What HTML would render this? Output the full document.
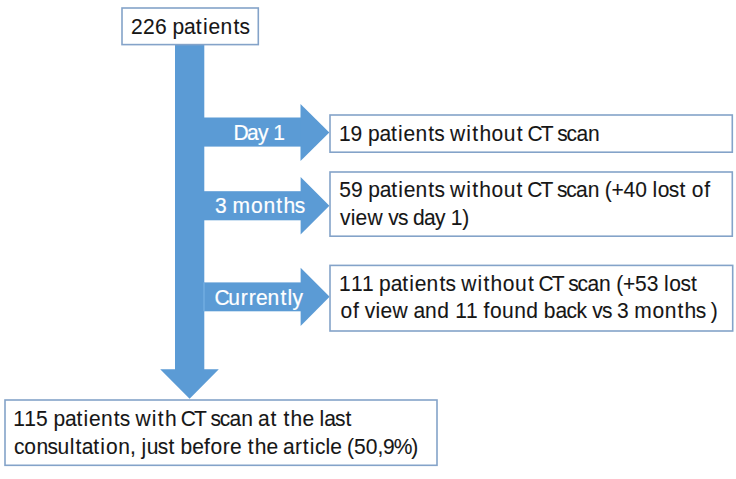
<!DOCTYPE html>
<html><head><meta charset="utf-8">
<style>
html,body{margin:0;padding:0;background:#fff;}
body{width:736px;height:479px;overflow:hidden;position:relative;}
svg{position:absolute;left:0;top:0;}
text{font-family:"Liberation Sans",sans-serif;font-size:21px;fill:#161616;stroke:#161616;stroke-width:0.1px;}
text.w{fill:#fff;stroke:#fff;stroke-width:0.2px;}
</style></head><body>
<svg width="736" height="479" viewBox="0 0 736 479">
<g fill="#5b9bd5">
<polygon points="175,45 204.3,45 204.3,369.2 218.8,369.2 189.6,398.7 160.2,369.2 175,369.2"/>
<rect x="204" y="117.5" width="97" height="29.1"/>
<polygon points="300.5,104 329.3,132.6 300.5,161"/>
<rect x="204" y="191.2" width="97" height="29.1"/>
<polygon points="300.6,177 329.4,205.7 300.6,234.5"/>
<rect x="204" y="282.4" width="97" height="28.9"/>
<rect x="203.6" y="282.4" width="0.8" height="28.9" fill="#86bbec"/>
<polygon points="300.6,267.7 329.6,296.8 300.6,325.9"/>
</g>
<g fill="#fff" stroke="#84a3c9" stroke-width="1.6">
<rect x="122" y="8" width="136.3" height="36.6"/>
<rect x="330" y="115" width="402.3" height="37.2"/>
<rect x="330" y="172" width="402.3" height="64.2"/>
<rect x="330" y="265.4" width="402.7" height="65.6"/>
<rect x="5" y="400" width="432" height="65.3"/>
</g>
<text x="131.1 143.0 154.9 166.5 172.4 184.1 195.8 203.0 208.6 220.5 233.4 239.6" y="33.6" transform="matrix(1 0 0 1.02 0 -0.67)">226 patients</text>
<text class='w' x="233.4 247.1 258.0 267.9 273.2" y="140.0" transform="matrix(1 0 0 1.02 0 -2.80)">Day 1</text>
<text class='w' x="214.9 226.4 232.6 251.1 263.4 276.3 283.5 294.8" y="213.4" transform="matrix(1 0 0 1.02 0 -4.27)">3 months</text>
<text class='w' x="214.4 228.3 240.8 248.7 255.9 267.6 280.4 287.5 292.4" y="305.2" transform="matrix(1 0 0 1.02 0 -6.10)">Currently</text>
<text x="338.9 350.6 362.1 367.9 379.4 391.1 398.1 403.6 415.4 428.2 434.3 443.8 450.1 466.3 472.3 479.4 491.6 503.8 516.8 523.3 527.5 540.8 552.4 557.2 566.6 576.4 588.1" y="140.9" transform="matrix(1 0 0 1.02 0 -2.82)">19 patients without CT scan</text>
<text x="339.2 351.0 362.4 368.2 379.7 391.3 398.3 403.8 415.6 428.3 434.4 443.9 450.1 466.3 472.3 479.3 491.5 503.7 516.6 523.1 527.3 540.5 552.1 556.9 566.3 576.0 587.7 599.3 604.8 611.5 623.4 635.2 646.6 652.4 657.7 668.8 679.4 685.9 691.7 704.3" y="197.1" transform="matrix(1 0 0 1.02 0 -3.94)">59 patients without CT scan (+40 lost of</text>
<text x="340.1 350.8 355.5 367.6 382.9 388.3 397.9 407.2 412.9 424.1 435.1 445.2 450.7 462.2" y="224.7" transform="matrix(1 0 0 1.02 0 -4.49)">view vs day 1)</text>
<text x="339.1 350.9 361.9 373.3 379.1 390.7 402.3 409.3 414.8 426.6 439.4 445.5 455.0 461.3 477.5 483.4 490.5 502.7 515.0 527.9 534.4 538.6 551.8 563.4 568.3 577.6 587.4 599.1 610.7 616.3 622.9 634.9 646.7 658.1 664.0 669.2 680.4 691.0" y="291.1" transform="matrix(1 0 0 1.02 0 -5.82)">111 patients without CT scan (+53 lost</text>
<text x="340.6 353.1 359.3 364.8 375.6 380.4 392.6 408.2 413.4 425.0 437.2 448.8 455.2 466.1 477.5 483.4 489.9 502.0 514.2 526.3 538.0 543.7 555.4 566.4 576.5 586.7 592.2 601.9 611.4 616.9 628.3 634.3 652.6 664.7 677.4 684.5 695.7 705.1 710.7" y="318.5" transform="matrix(1 0 0 1.02 0 -6.37)">of view and 11 found back vs 3 months )</text>
<text x="13.3 24.3 36.1 47.5 53.4 64.9 76.5 83.6 89.1 100.9 113.7 119.8 129.3 135.6 151.8 157.8 164.9 176.5 180.7 194.0 205.6 210.4 219.8 229.6 241.3 252.9 258.1 270.4 276.9 283.4 290.5 302.4 313.7 319.6 324.3 334.9 345.5" y="426.2" transform="matrix(1 0 0 1.02 0 -8.52)">115 patients with CT scan at the last</text>
<text x="14.0 24.3 36.4 47.6 57.5 69.8 75.5 81.7 93.3 100.3 106.1 118.2 130.1 135.6 141.5 146.8 157.8 168.4 174.9 180.6 192.3 204.1 210.5 222.8 230.1 241.4 247.8 254.8 266.6 277.9 283.1 295.0 302.8 309.8 314.9 325.4 330.2 341.5 347.0 354.0 365.7 377.4 383.1 393.7 411.3" y="454.2" transform="matrix(1 0 0 1.02 0 -9.08)">consultation, just before the article (50,9%)</text>

</svg>
</body></html>
